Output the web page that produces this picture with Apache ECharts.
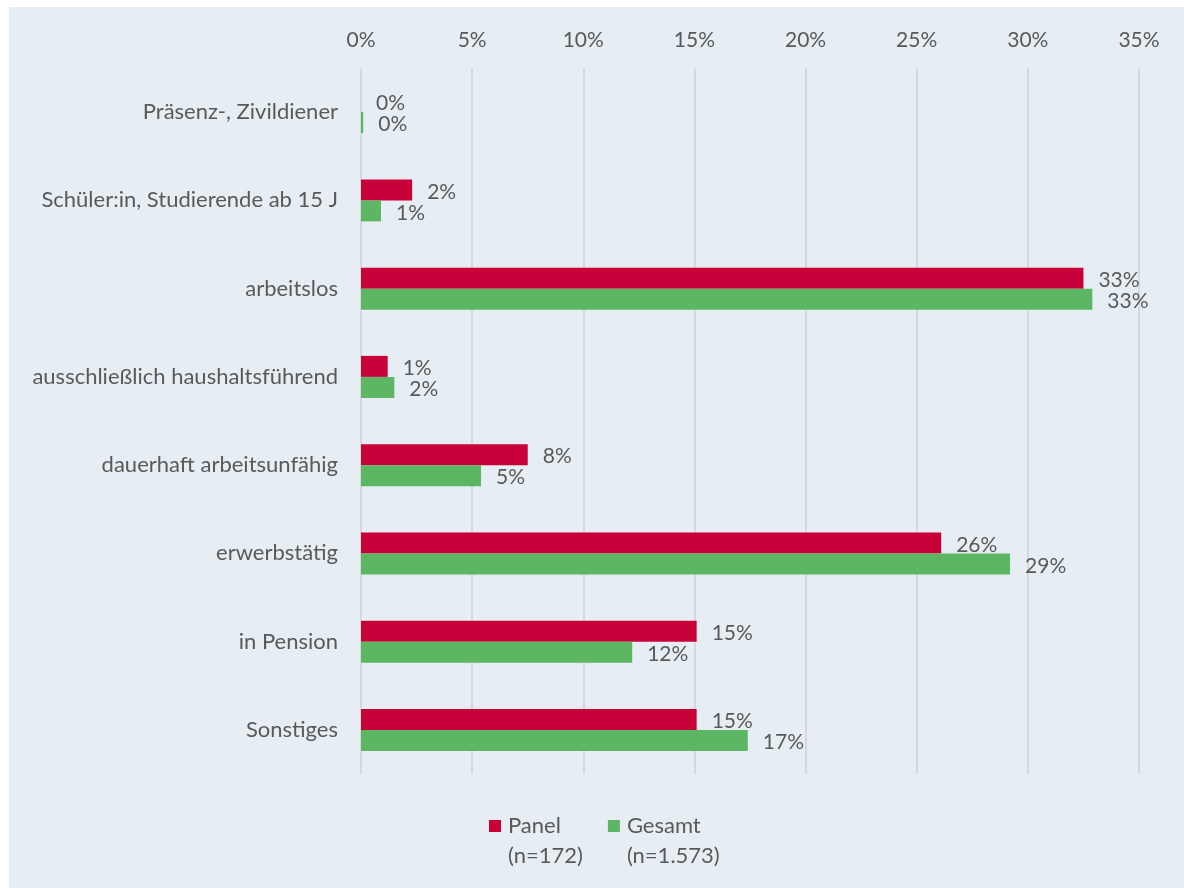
<!DOCTYPE html>
<html>
<head>
<meta charset="utf-8">
<script src="https://cdn.jsdelivr.net/npm/echarts@6/dist/echarts.min.js"></script>
<style>
  html, body { margin: 0; padding: 0; background: #ffffff; }
  #chart { width: 1184px; height: 888px; }
</style>
</head>
<body>
<div id="chart"></div>
<script>
// Erwerbsstatus – Anteile in Prozent
const categories = [
  'Präsenz-, Zivildiener',
  'Schüler:in, Studierende ab 15 J',
  'arbeitslos',
  'ausschließlich haushaltsführend',
  'dauerhaft arbeitsunfähig',
  'erwerbstätig',
  'in Pension',
  'Sonstiges'
];
const panelValues  = [0.0, 2.3, 32.5, 1.2, 7.5, 26.1, 15.1, 15.1];
const gesamtValues = [0.1, 0.9, 32.9, 1.5, 5.4, 29.2, 12.2, 17.4];
const seriesNames = ['Panel\n(n=172)', 'Gesamt\n(n=1.573)'];
const axisTicks = [0, 5, 10, 15, 20, 25, 30, 35];

const FONT = 'Lato';
const TEXT = '#595959';
const RED = '#c8003a';
const GREEN = '#5db664';

const chart = echarts.init(document.getElementById('chart'), null, { renderer: 'canvas' });

const labelCfg = {
  show: true,
  position: 'right',
  distance: 15,
  color: TEXT,
  fontFamily: FONT,
  fontSize: 21,
  formatter: p => Math.round(p.value) + '%'
};

chart.setOption({
  backgroundColor: 'transparent',
  graphic: [{
    type: 'rect',
    z: -10,
    silent: true,
    shape: { x: 9, y: 7, width: 1175, height: 881 },
    style: { fill: '#e6eef4' }
  }],
  textStyle: { fontFamily: FONT },
  grid: { left: 361, right: 45, top: 68, bottom: 114, containLabel: false },
  legend: {
    bottom: 17,
    left: 489,
    padding: 0,
    itemWidth: 12,
    itemHeight: 12,
    itemGap: 25,
    icon: 'rect',
    // a blank leading line keeps the marker level with the series name
    formatter: name => '\u00a0\n' + name,
    textStyle: {
      color: TEXT, fontFamily: FONT, fontSize: 22, lineHeight: 30,
      padding: [0, 0, 0, 2]
    },
    data: seriesNames
  },
  xAxis: {
    type: 'value',
    position: 'top',
    min: 0,
    max: axisTicks[axisTicks.length - 1],
    interval: 5,
    axisLine: { show: false },
    axisTick: { show: false },
    axisLabel: {
      color: TEXT, fontFamily: FONT, fontSize: 21, margin: 17,
      formatter: v => v + '%'
    },
    splitLine: { show: true, lineStyle: { color: '#d6d9dc', width: 2 } }
  },
  yAxis: {
    type: 'category',
    inverse: true,
    data: categories,
    axisLine: { show: false },
    axisTick: { show: false },
    axisLabel: { color: TEXT, fontFamily: FONT, fontSize: 22, margin: 23 }
  },
  series: [
    {
      name: seriesNames[0],
      type: 'bar',
      data: panelValues,
      barWidth: 21,
      barGap: '0%',
      itemStyle: { color: RED },
      label: Object.assign({}, labelCfg, { offset: [0, 2] })
    },
    {
      name: seriesNames[1],
      type: 'bar',
      data: gesamtValues,
      barWidth: 21,
      barGap: '0%',
      itemStyle: { color: GREEN },
      label: Object.assign({}, labelCfg, { offset: [0, 2] })
    }
  ]
});
</script>
</body>
</html>
